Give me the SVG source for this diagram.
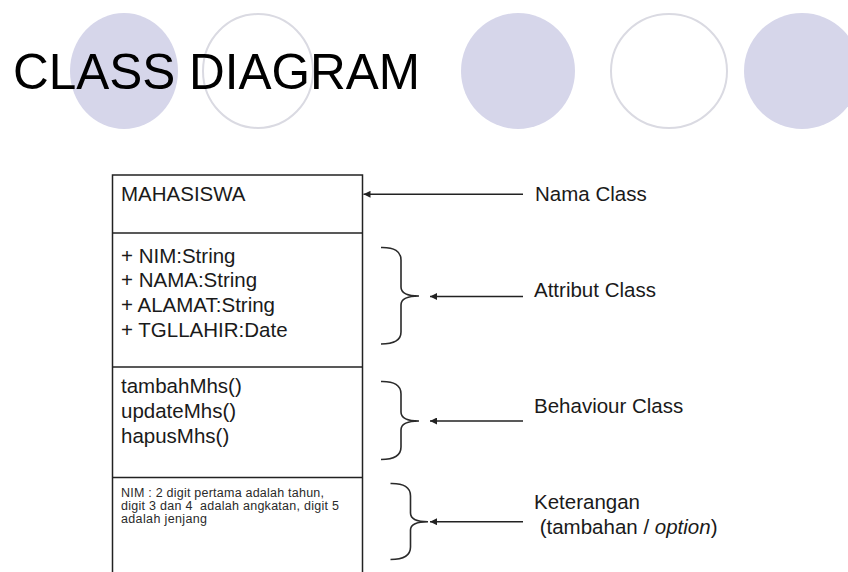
<svg xmlns="http://www.w3.org/2000/svg" width="848" height="572" viewBox="0 0 848 572">
<style>
  .fill { fill: #d6d6ea; stroke: none; }
  .ring { fill: none; stroke: #dadae2; stroke-width: 2; }
  .title { font-family: "Liberation Sans", Arial, sans-serif; font-size: 49.5px; fill: #000; }
  .t { font-family: "Liberation Sans", Arial, sans-serif; font-size: 20.5px; fill: #1a1a1a; }
  .note { font-family: "Liberation Sans", Arial, sans-serif; font-size: 12.5px; fill: #2a2a2a; }
  .box { fill: #fff; stroke: #222; stroke-width: 1.5; }
  .div { stroke: #222; stroke-width: 1.5; }
  .brace { fill: none; stroke: #2a2a2a; stroke-width: 1.6; }
  .arrow { stroke: #222; stroke-width: 1.4; marker-end: url(#ah); }
</style>
<defs>
  <marker id="ah" viewBox="0 0 10 10" refX="10" refY="5" markerWidth="8" markerHeight="7" markerUnits="userSpaceOnUse" orient="auto">
    <path d="M0,0 L10,5 L0,10 z" fill="#222"/>
  </marker>
</defs>
<rect width="848" height="572" fill="#fff"/>
<g id="decor">
  <ellipse class="fill" cx="124" cy="71" rx="54" ry="58"/>
  <ellipse class="ring" cx="258" cy="71" rx="55" ry="57"/>
  <ellipse class="fill" cx="518" cy="71" rx="57" ry="58"/>
  <ellipse class="ring" cx="669" cy="71" rx="58" ry="57"/>
  <ellipse class="fill" cx="802" cy="71" rx="58" ry="58"/>
</g>
<g id="title">
  <text class="title" x="13" y="89">CLASS DIAGRAM</text>
</g>
<g id="class-mahasiswa">
  <rect class="box" x="112.5" y="175" width="250" height="420"/>
  <line class="div" x1="112.5" y1="233" x2="362.5" y2="233"/>
  <line class="div" x1="112.5" y1="367" x2="362.5" y2="367"/>
  <line class="div" x1="112.5" y1="477.5" x2="362.5" y2="477.5"/>
  <text class="t" x="121" y="201">MAHASISWA</text>
  <text class="t" x="121" y="262.5">+ NIM:String</text>
  <text class="t" x="121" y="287">+ NAMA:String</text>
  <text class="t" x="121" y="312">+ ALAMAT:String</text>
  <text class="t" x="121" y="337">+ TGLLAHIR:Date</text>
  <text class="t" x="121" y="393">tambahMhs()</text>
  <text class="t" x="121" y="418">updateMhs()</text>
  <text class="t" x="121" y="443">hapusMhs()</text>
  <text class="note" x="121" y="497" textLength="203" lengthAdjust="spacing">NIM : 2 digit pertama adalah tahun,</text>
  <text class="note" x="121" y="510" textLength="218" lengthAdjust="spacing" xml:space="preserve">digit 3 dan 4  adalah angkatan, digit 5</text>
  <text class="note" x="121" y="523" textLength="86" lengthAdjust="spacing">adalah jenjang</text>
</g>
<g id="braces">
  <path class="brace" d="M381,247.5 Q401,247 401,260 L401,287 Q401,296 419,296 Q401,296 401,305 L401,332 Q401,344 381,344"/>
  <path class="brace" d="M381,381.5 Q401,381 401,394 L401,412 Q401,421 419,421 Q401,421 401,430 L401,447 Q401,459.5 381,459.5"/>
  <path class="brace" d="M390.5,483.5 Q410.5,483 410.5,496 L410.5,513 Q410.5,521.7 428,521.7 Q410.5,521.7 410.5,530 L410.5,547 Q410.5,559.5 390.5,559.5"/>
</g>
<g id="connectors">
  <line class="arrow" x1="523" y1="194.3" x2="363.5" y2="194.3"/>
  <line class="arrow" x1="523" y1="296.5" x2="430" y2="296.5"/>
  <line class="arrow" x1="523" y1="421" x2="430" y2="421"/>
  <line class="arrow" x1="523" y1="521.7" x2="430" y2="521.7"/>
</g>
<g id="labels">
  <text class="t" x="535" y="201">Nama Class</text>
  <text class="t" x="534" y="297">Attribut Class</text>
  <text class="t" x="534" y="413">Behaviour Class</text>
  <text class="t" x="534" y="508.5">Keterangan</text>
  <text class="t" x="534" y="534" xml:space="preserve"> (tambahan / <tspan font-style="italic">option</tspan>)</text>
</g>
</svg>
